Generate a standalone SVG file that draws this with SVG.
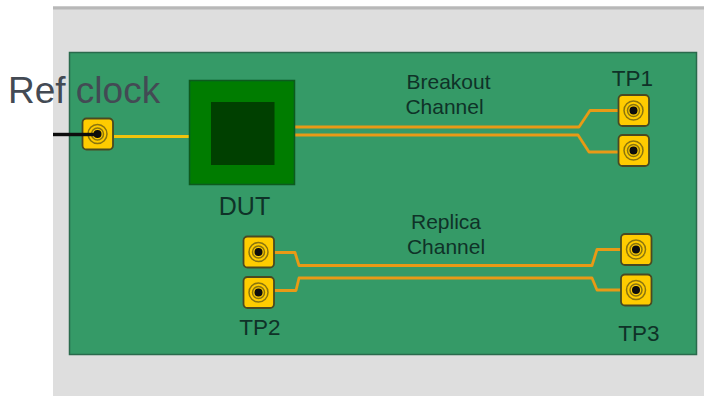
<svg xmlns="http://www.w3.org/2000/svg" width="704" height="396" viewBox="0 0 704 396">
<defs>
<filter id="soft" x="-5%" y="-5%" width="110%" height="110%"><feGaussianBlur stdDeviation="0.6"/></filter>
<g id="sma">
<rect x="-15" y="-15.500" width="30.500" height="31" rx="4" fill="#ffcc00" stroke="#4a4a20" stroke-width="1.800"/>
<circle r="9.500" fill="none" stroke="#8a7410" stroke-width="1.500"/>
<circle r="6" fill="none" stroke="#8a7410" stroke-width="1.500"/>
<circle r="4" fill="#0a0a0a"/>
</g>
</defs>
<style>
.lbl{font-family:"Liberation Sans",Arial,sans-serif;fill:#0f3228;text-anchor:middle}
.s{font-size:21px}
.m{font-size:22.500px}
.d{font-size:25px}
.tr{fill:none;stroke:#e89a12;stroke-width:2.800;stroke-linejoin:round}
</style>
<rect width="704" height="396" fill="#fff"/>
<rect x="53" y="6" width="651" height="390" fill="#dedede"/>
<rect x="53" y="6.500" width="651" height="3" fill="#b8b8b8"/>
<g id="board">
<rect x="69.500" y="52.500" width="627" height="302" fill="#359a67" stroke="#2a6a4c" stroke-width="1.500"/>
</g>
<g id="connectors" filter="url(#soft)">
<path d="M114 136.500H191" fill="none" stroke="#f0c40f" stroke-width="3"/>
<path class="tr" d="M295 127H579L590 110.500H620"/>
<path class="tr" d="M295 135H578L589 152H620"/>
<path class="tr" d="M274 252.500H295L299 265.500H592L597 249.500H622"/>
<path class="tr" d="M274 290.500H296L299 278H592L597 290H622"/>
</g>
<g id="dut" filter="url(#soft)">
<rect x="189.500" y="80.500" width="105" height="104" fill="#007c00" stroke="#0f5a1f" stroke-width="1.500"/>
<rect x="211" y="102" width="63.500" height="63" fill="#003f00"/>
</g>
<g id="port-ref" filter="url(#soft)"><use href="#sma" x="97.500" y="134"/></g>
<g id="port-tp1a" filter="url(#soft)"><use href="#sma" x="633.500" y="110.500"/></g>
<g id="port-tp1b" filter="url(#soft)"><use href="#sma" x="633.500" y="150.500"/></g>
<g id="port-tp2a" filter="url(#soft)"><use href="#sma" x="258.500" y="252"/></g>
<g id="port-tp2b" filter="url(#soft)"><use href="#sma" x="258.500" y="292.500"/></g>
<g id="port-tp3a" filter="url(#soft)"><use href="#sma" x="636" y="249.500"/></g>
<g id="port-tp3b" filter="url(#soft)"><use href="#sma" x="636" y="290"/></g>
<g id="ref-cable"><rect x="53" y="132.800" width="44" height="3.400" fill="#0a0a0a" filter="url(#soft)"/></g>
<g id="labels">
<text class="lbl s" x="448.500" y="89">Breakout</text>
<text class="lbl s" x="444.500" y="114">Channel</text>
<text class="lbl s" x="446" y="229">Replica</text>
<text class="lbl s" x="446" y="254">Channel</text>
<text class="lbl m" x="632.500" y="86">TP1</text>
<text class="lbl d" x="244.500" y="215">DUT</text>
<text class="lbl m" x="260" y="335">TP2</text>
<text class="lbl m" x="639" y="341">TP3</text>
<text x="8" y="103" font-family="'Liberation Sans',Arial,sans-serif" font-size="37" fill="#434a54">Ref clock</text>
</g>
</svg>
